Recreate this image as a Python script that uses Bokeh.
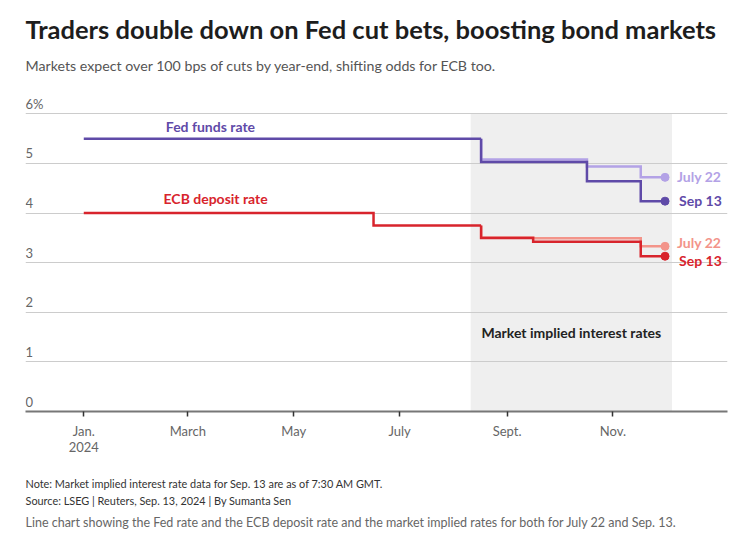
import pandas as pd
from bokeh.plotting import figure
from bokeh.models import Label, FixedTicker, Range1d, ColumnDataSource, Title
from bokeh.core.properties import value
from bokeh.embed import file_html
from bokeh.resources import INLINE

FONT = "Lato"

# ---------------- texts ----------------
title_text = "Traders double down on Fed cut bets, boosting bond markets"
subtitle_text = "Markets expect over 100 bps of cuts by year-end, shifting odds for ECB too."
note_text = "Note: Market implied interest rate data for Sep. 13 are as of 7:30 AM GMT."
source_text = "Source: LSEG | Reuters, Sep. 13, 2024 | By Sumanta Sen"
desc_text = ("Line chart showing the Fed rate and the ECB deposit rate and the market "
             "implied rates for both for July 22 and Sep. 13.")

# ---------------- data ----------------
fed_dates = ["2024-01-01", "2024-08-17"]
fed_rate = [5.5, 5.5]
ecb_dates = ["2024-01-01", "2024-06-16", "2024-08-17"]
ecb_rate = [4.0, 3.75, 3.75]

implied_dates = ["2024-08-17", "2024-09-16", "2024-10-17", "2024-11-17", "2024-12-01"]
fed_jul22 = [5.08, 5.08, 4.94, 4.72, 4.72]
fed_sep13 = [5.03, 5.03, 4.64, 4.24, 4.24]
ecb_jul22 = [3.51, 3.49, 3.49, 3.33, 3.33]
ecb_sep13 = [3.50, 3.42, 3.42, 3.13, 3.13]

shade_start = ["2024-08-11"]
shade_end = ["2024-12-05"]

tick_dates = ["2024-01-01", "2024-03-01", "2024-05-01", "2024-07-01", "2024-09-01", "2024-11-01"]
tick_labels = ["Jan.\n2024", "March", "May", "July", "Sept.", "Nov."]

y_ticks = [0, 1, 2, 3, 4, 5, 6]
y_labels = ["0", "1", "2", "3", "4", "5", "6%"]

# ---------------- colours ----------------
FED = "#5f4aa8"
FED_L = "#b3a2e6"
ECB = "#d8242c"
ECB_L = "#f3948a"


def ms(d):
    return pd.Timestamp(d).value / 1e6


def dt(lst):
    return pd.to_datetime(lst)


x_start = ms("2023-11-28 10:00")
x_end = ms("2025-01-06 00:00")

p = figure(width=754, height=540, x_axis_type="datetime", y_axis_location=None,
           output_backend="svg", toolbar_location=None,
           x_range=Range1d(x_start, x_end), y_range=Range1d(0, 6.35),
           min_border_left=25, min_border_right=27, min_border_top=96,
           min_border_bottom=129)
p.outline_line_color = None
p.background_fill_color = "white"
p.border_fill_color = "white"

# grid
p.xgrid.visible = False
p.ygrid.ticker = FixedTicker(ticks=y_ticks[1:])
p.ygrid.grid_line_color = "#cccccc"
p.ygrid.grid_line_width = 1

# shaded market-implied zone
p.quad(left=dt(shade_start), right=dt(shade_end), bottom=[0], top=[6],
       fill_color="#efefef", line_color=None, level="underlay")
p.text(x=[dt(shade_start)[0] + (dt(shade_end)[0] - dt(shade_start)[0]) / 2], y=[1.59],
       text=["Market implied interest rates"], text_align="center",
       text_baseline="middle", text_font=value(FONT), text_font_style="bold",
       text_font_size="14px", text_color="#222222")

# y labels above grid lines
p.text(x=[x_start] * len(y_ticks), y=y_ticks, text=y_labels, text_align="left",
       text_baseline="middle", y_offset=-10, text_font=value(FONT),
       text_font_size="13px", text_color="#666666")

# implied paths (light first, then dark)
for vals, col in [(fed_jul22, FED_L), (ecb_jul22, ECB_L), (fed_sep13, FED), (ecb_sep13, ECB)]:
    base = fed_rate[-1] if col in (FED, FED_L) else ecb_rate[-1]
    xs = dt([implied_dates[0]] + implied_dates)
    ys = [base] + vals
    p.step(xs, ys, mode="after", line_color=col, line_width=2.5, line_join="miter")

# actual rates
p.line(dt(fed_dates), fed_rate, line_color=FED, line_width=2.5)
p.step(dt(ecb_dates), ecb_rate, mode="after", line_color=ECB, line_width=2.5, line_join="miter")

# end dots
end_x = dt([implied_dates[-1]] * 4)
end_y = [fed_jul22[-1], fed_sep13[-1], ecb_jul22[-1], ecb_sep13[-1]]
end_col = [FED_L, FED, ECB_L, ECB]
p.scatter(end_x, end_y, size=8, fill_color=end_col, line_color=end_col)

lab_src = ColumnDataSource(dict(x=end_x, y=end_y, text=["July 22", "Sep 13", "July 22", "Sep 13"],
                                color=end_col, yoff=[-1, -1, -4, 4], xoff=[12, 14, 12, 14]))
p.text(x="x", y="y", text="text", source=lab_src, text_color="color", y_offset="yoff",
       x_offset="xoff", text_baseline="middle", text_font=value(FONT),
       text_font_style="bold", text_font_size="14px")

# series labels
p.add_layout(Label(x=ms("2024-03-14"), y=5.75, text="Fed funds rate", text_align="center",
                   text_baseline="middle", text_font=FONT, text_font_style="bold",
                   text_font_size="14px", text_color=FED))
p.add_layout(Label(x=ms("2024-03-17"), y=4.29, text="ECB deposit rate", text_align="center",
                   text_baseline="middle", text_font=FONT, text_font_style="bold",
                   text_font_size="14px", text_color=ECB))

# x axis
ax = p.xaxis[0]
ax.ticker = FixedTicker(ticks=[ms(d) for d in tick_dates])
ax.major_label_overrides = {ms(d): lab for d, lab in zip(tick_dates, tick_labels)}
ax.axis_line_color = "#777777"
ax.axis_line_width = 2
ax.major_tick_line_color = "#333333"
ax.major_tick_line_width = 1.5
ax.major_tick_out = 5
ax.major_tick_in = 0
ax.minor_tick_line_color = None
ax.major_label_standoff = 6
ax.major_label_text_font = FONT
ax.major_label_text_font_size = "13px"
ax.major_label_text_line_height = 1.0
ax.major_label_text_color = "#666666"


# titles (above: nearest first) and footer (below, after axis)
def mk_title(txt, size, color, standoff, style="normal"):
    return Title(text=txt, align="left", text_font=FONT, text_font_size=size,
                 text_font_style=style, text_color=color, standoff=standoff)


p.add_layout(mk_title(" ", "1px", "#ffffff", 12), "above")          # spacer
p.add_layout(mk_title(subtitle_text, "14.2px", "#555555", 16), "above")
p.add_layout(mk_title(title_text, "25.5px", "#1d1d1d", 6, "bold"), "above")

p.add_layout(mk_title(" ", "1px", "#ffffff", 14), "below")          # spacer
p.add_layout(mk_title(note_text, "10.9px", "#333333", 0), "below")
p.add_layout(mk_title(source_text, "10.9px", "#333333", 4), "below")
p.add_layout(mk_title(desc_text, "12.5px", "#666666", 9), "below")

open("out.html", "w").write(file_html(p, INLINE))
